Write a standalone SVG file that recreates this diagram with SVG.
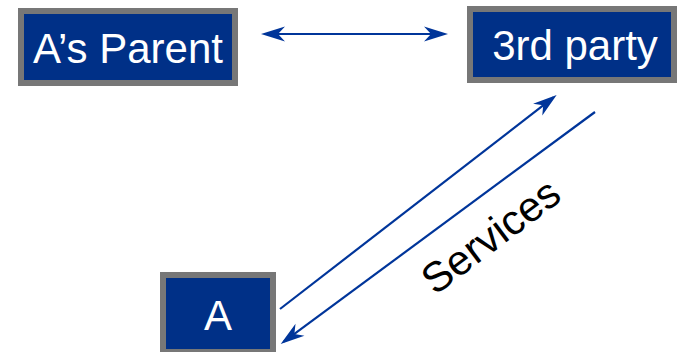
<svg xmlns="http://www.w3.org/2000/svg" width="677" height="352" viewBox="0 0 677 352">
  <style>
    .box { fill: #003087; stroke: #777777; stroke-width: 6; }
    .lbl { font-family: "Liberation Sans", Arial, sans-serif; font-size: 42px; fill: #ffffff; text-anchor: middle; }
    .conn { stroke: #00359A; stroke-width: 2.2; fill: none; }
    .note { font-family: "Liberation Sans", Arial, sans-serif; font-size: 42px; fill: #000000; }
  </style>
  <defs>
    <marker id="ah" viewBox="-21 -8 26 16" markerWidth="26" markerHeight="16" refX="0" refY="0" orient="auto-start-reverse" markerUnits="userSpaceOnUse">
      <path d="M4,0 L-20,-7.5 L-13,0 L-20,7.5 Z" fill="#00359A"/>
    </marker>
  </defs>
  <rect width="677" height="352" fill="#ffffff"/>
  <g id="parent">
    <rect class="box" x="21" y="11" width="214" height="72"/>
    <text class="lbl" x="128" y="63">A’s Parent</text>
  </g>
  <g id="third-party">
    <rect class="box" x="470" y="9" width="204" height="71"/>
    <text class="lbl" x="575" y="60">3rd party</text>
  </g>
  <g id="a">
    <rect class="box" x="163" y="275" width="110" height="77"/>
    <text class="lbl" x="218" y="330">A</text>
  </g>
  <g id="connectors">
    <line class="conn" x1="265" y1="34" x2="444" y2="34" marker-start="url(#ah)" marker-end="url(#ah)"/>
    <line class="conn" x1="280" y1="309" x2="553.5" y2="97.4" marker-end="url(#ah)"/>
    <line class="conn" x1="595" y1="112" x2="283.9" y2="341.6" marker-end="url(#ah)"/>
    <text class="note" transform="translate(435,296) rotate(-37)">Services</text>
  </g>
</svg>
